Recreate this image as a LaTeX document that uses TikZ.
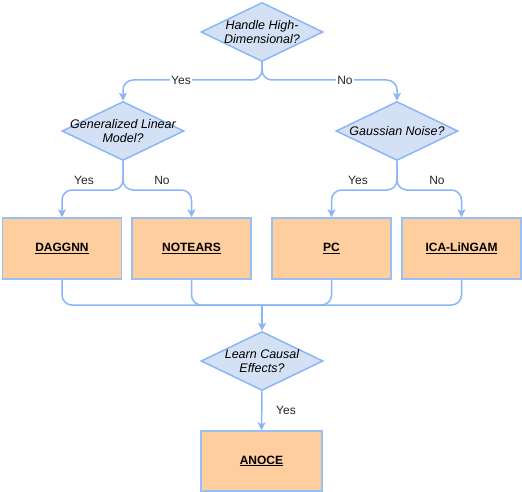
\documentclass[tikz,border=0pt]{standalone}
\usepackage{fontspec}
\setmainfont{Liberation Sans}
\usetikzlibrary{shapes.geometric,arrows.meta}
\definecolor{lineblue}{HTML}{8AB6F9}
\definecolor{dfill}{HTML}{D4E1F5}
\definecolor{bfill}{HTML}{FFCE9F}
\definecolor{bstroke}{HTML}{99C0F5}
\begin{document}
\begin{tikzpicture}[x=1pt,y=-1pt,
  dec/.style={diamond,draw=lineblue,fill=dfill,line width=1.5pt,minimum width=122pt,minimum height=59pt,inner sep=0pt,
     label={[align=center,font=\fontsize{12.5}{14.5}\selectfont\itshape,inner sep=0pt]center:#1}},
  box/.style={rectangle,draw=bstroke,fill=bfill,line width=1.5pt,minimum width=119pt,minimum height=61pt,inner sep=0pt,font=\fontsize{12}{14}\selectfont\bfseries},
  conn/.style={draw=lineblue,line width=1.5pt,rounded corners=10pt},
  arr/.style={conn,-{Stealth[length=8pt,width=8pt,inset=2pt]}},
  lbl/.style={fill=white,inner sep=1pt,font=\fontsize{12}{14}\selectfont,text=black!85}
]
\useasboundingbox (0,0) rectangle (522,492);
\node[dec={Handle High-\\Dimensional?}] (hd) at (262,32) {};
\node[dec={Generalized Linear\\Model?}] (glm) at (123,131) {};
\node[dec={Gaussian Noise?}] (gn) at (397,131) {};
\node[box] (dag) at (62,248.5) {\underline{DAGGNN}};
\node[box] (note) at (191.5,248.5) {\underline{NOTEARS}};
\node[box] (pc) at (331.5,248.5) {\underline{PC}};
\node[box] (ica) at (461.5,248.5) {\underline{ICA-LiNGAM}};
\node[dec={Learn Causal\\Effects?}] (lce) at (262,361) {};
\node[box,minimum height=60pt,minimum width=121pt] (anoce) at (261.5,461) {\underline{ANOCE}};

\coordinate (m1) at (262,80);
\coordinate (m2) at (123,190);
\coordinate (m3) at (397,190);
\coordinate (m4) at (262,305);

\draw[arr] (hd.south) |- (m1) -| (glm.north);
\draw[arr] (hd.south) |- (m1) -| (gn.north);
\draw[arr] (glm.south) |- (m2) -| (dag.north);
\draw[arr] (glm.south) |- (m2) -| (note.north);
\draw[arr] (gn.south) |- (m3) -| (pc.north);
\draw[arr] (gn.south) |- (m3) -| (ica.north);
\draw[conn] (dag.south) |- (m4);
\draw[conn] (note.south) |- (m4);
\draw[conn] (pc.south) |- (m4);
\draw[conn] (ica.south) |- (m4);
\draw[arr] (m4) -- (lce.north);
\draw[arr] (lce.south) -- (anoce.north);

\node[lbl] (l1) at (181,80) {Yes};
\node[lbl] (l2) at (345,80) {No};
\node[lbl,fill=none] (l3) at (84,180) {Yes};
\node[lbl,fill=none] (l4) at (162,180) {No};
\node[lbl,fill=none] (l5) at (358,180) {Yes};
\node[lbl,fill=none] (l6) at (437,180) {No};
\node[lbl,fill=none] (l7) at (286,410) {Yes};
\end{tikzpicture}
\end{document}
